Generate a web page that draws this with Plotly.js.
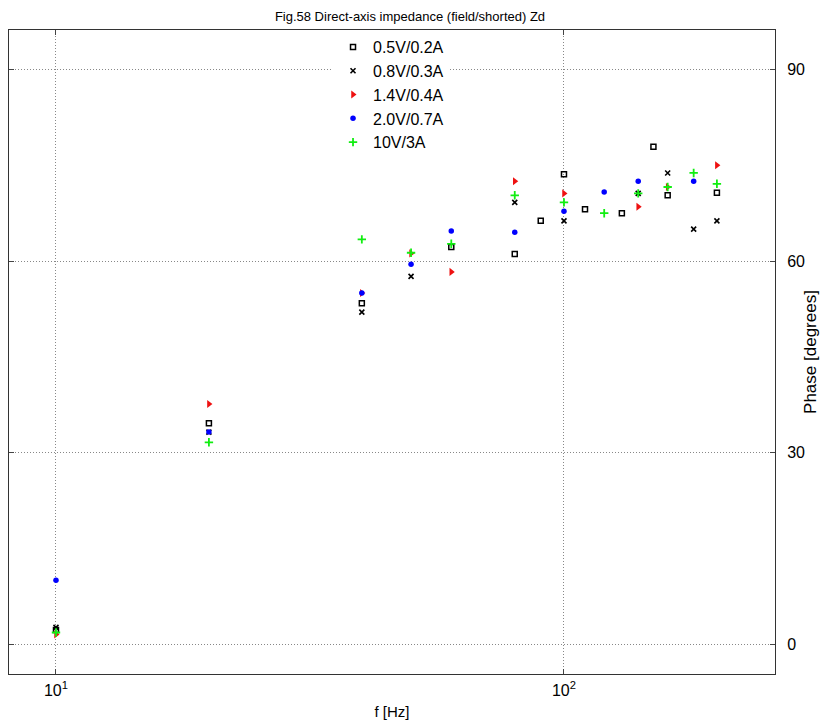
<!DOCTYPE html>
<html>
<head>
<meta charset="utf-8">
<script src="https://cdn.plot.ly/plotly-3.0.1.min.js"></script>
<style>html,body{margin:0;padding:0;background:#fff;}#chart{width:820px;height:724px;}</style>
</head>
<body>
<div id="chart"></div>
<script>
// Series data (frequency in Hz, phase in degrees)
const sqF = [10, 20, 40, 60, 80, 90, 100, 110, 130, 150, 160, 200];
const sqY = [2.2, 34.6, 53.4, 62.2, 61.1, 66.3, 73.6, 68.1, 67.5, 77.9, 70.3, 70.7];

const xF = [10, 20, 40, 50, 80, 100, 140, 160, 180, 200];
const xY = [2.6, 33.2, 52.0, 57.6, 69.2, 66.3, 70.6, 73.8, 65.0, 66.3];

const redF = [10, 20, 40, 50, 60, 80, 100, 140, 160, 200];
const redY = [1.5, 37.6, 55.0, 61.2, 58.3, 72.5, 70.6, 68.5, 71.6, 75.0];

const blueF = [10, 20, 40, 50, 60, 80, 100, 120, 140, 180];
const blueY = [10.0, 33.2, 55.0, 59.5, 64.7, 64.5, 67.8, 70.8, 72.5, 72.5];

const greenF = [10, 20, 40, 50, 60, 80, 100, 120, 140, 160, 180, 200];
const greenY = [1.8, 31.6, 63.4, 61.3, 62.7, 70.3, 69.2, 67.5, 70.6, 71.6, 73.8, 72.1];

const seriesNames = ['0.5V/0.2A', '0.8V/0.3A', '1.4V/0.4A', '2.0V/0.7A', '10V/3A'];
const yTicks = [0, 30, 60, 90];
const xTicks = [10, 100];
const xTickText = ['10<sup>1</sup>', '10<sup>2</sup>'];

const traces = [
  {x: sqF, y: sqY, name: seriesNames[0], type: 'scatter', mode: 'markers',
   marker: {symbol: 'square-open', size: 5, color: '#000', line: {width: 1.5, color: '#000'}}},
  {x: xF, y: xY, name: seriesNames[1], type: 'scatter', mode: 'markers',
   marker: {symbol: 'x-thin', size: 5, color: '#000', line: {width: 1.6, color: '#000'}}},
  {x: redF, y: redY, name: seriesNames[2], type: 'scatter', mode: 'markers',
   marker: {symbol: 'triangle-right', size: 7, color: '#ee1111', line: {width: 0}}},
  {x: blueF, y: blueY, name: seriesNames[3], type: 'scatter', mode: 'markers',
   marker: {symbol: 'circle', size: 5.5, color: '#0000ff', line: {width: 0}}},
  {x: greenF, y: greenY, name: seriesNames[4], type: 'scatter', mode: 'markers',
   marker: {symbol: 'cross-thin', size: 6, color: '#11ee11', line: {width: 1.8, color: '#11ee11'}}}
];

const font = {family: 'Liberation Sans, Arial, sans-serif', color: '#000'};

const layout = {
  width: 820, height: 724,
  margin: {l: 9, r: 45, t: 30, b: 50},
  paper_bgcolor: '#fff', plot_bgcolor: '#fff',
  font: Object.assign({size: 14}, font),
  title: {text: 'Fig.58 Direct-axis impedance (field/shorted) Zd', x: 0.5, xanchor: 'center', y: 0.983, yanchor: 'top',
          font: Object.assign({size: 13}, font)},
  showlegend: true,
  legend: {x: 0.423, y: 1.0, xanchor: 'left', yanchor: 'top', bgcolor: '#fff', borderwidth: 0,
           font: Object.assign({size: 16}, font), tracegroupgap: 0},
  xaxis: {
    type: 'log', range: [0.9075, 2.4154],
    tickvals: xTicks, ticktext: xTickText, ticks: 'inside', ticklen: 5, tickcolor: '#444',
    showgrid: true, gridcolor: '#888', griddash: '1px,2px', gridwidth: 1,
    showline: true, linecolor: '#333', linewidth: 1, mirror: 'ticks', zeroline: false,
    tickfont: Object.assign({size: 16}, font), ticklabelstandoff: 2,
    title: {text: 'f [Hz]', font: Object.assign({size: 15}, font), standoff: 8}
  },
  yaxis: {
    side: 'right', range: [-4.7, 96.2],
    tickvals: yTicks, ticks: 'inside', ticklen: 5, tickcolor: '#444',
    showgrid: true, gridcolor: '#888', griddash: '1px,2px', gridwidth: 1,
    showline: true, linecolor: '#333', linewidth: 1, mirror: 'ticks', zeroline: false,
    tickfont: Object.assign({size: 16}, font), ticklabelstandoff: 8,
    title: {text: 'Phase [degrees]', font: Object.assign({size: 17}, font), standoff: 2}
  }
};

Plotly.newPlot('chart', traces, layout, {displayModeBar: false, staticPlot: true});
</script>
</body>
</html>
